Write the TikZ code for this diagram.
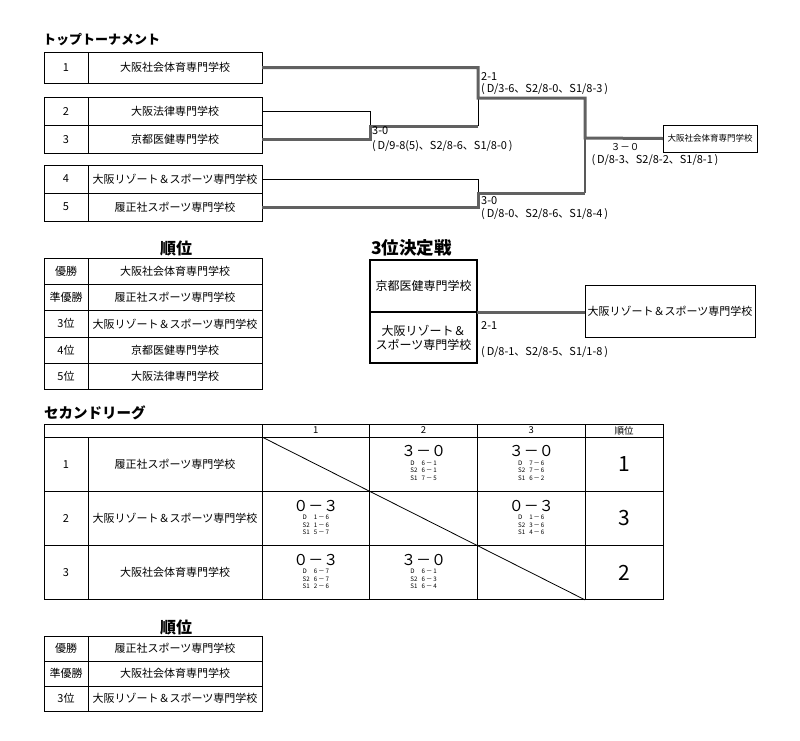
\documentclass[tikz,border=0pt]{standalone}
\usepackage{fontspec}
\setmainfont{Noto Sans CJK JP}
\usepackage{tikz}
\usetikzlibrary{positioning}

% score block of one league match
\newcommand{\matchres}[4]{%
  \begin{tabular}{@{}c@{}}
  {\fontsize{15}{15}\selectfont #1}\\[-1pt]
  \fontsize{6.2}{7.5}\selectfont
  \begin{tabular}{@{}l@{\hspace{4pt}}l@{}}D & #2\\ S2 & #3\\ S1 & #4\end{tabular}
  \end{tabular}}

\begin{document}
\begin{tikzpicture}[
    x=1pt, y=-1pt,
    every node/.style={font=\fontsize{11}{13.5}\selectfont},
    cell/.style={draw, line width=0.9pt, outer sep=0pt, inner sep=0pt, align=center},
    numcell/.style={cell, minimum width=44pt, minimum height=28pt},
    namecell/.style={cell, minimum width=174pt, minimum height=28pt},
    rankrow/.style={minimum height=26.3pt},
    lgrow/.style={minimum height=54.3pt},
    sccell/.style={cell, minimum width=107.7pt, lgrow},
    hcell/.style={cell, minimum width=107.7pt, minimum height=13pt, font=\fontsize{9.5}{10}\selectfont},
    rkcell/.style={cell, minimum width=78pt, lgrow, font=\fontsize{21}{22}\selectfont},
    title/.style={font=\fontsize{14.5}{16}\selectfont\bfseries, inner sep=0pt},
    win/.style={draw=black!62, line width=3pt},
    lose/.style={draw=black, line width=0.9pt},
    half/.style={draw=black!65, line width=2pt},
    res/.style={anchor=west, inner sep=0pt, font=\fontsize{11}{12}\selectfont}
]
\useasboundingbox (0,0) rectangle (800,740);

% Top tournament
\node[title, anchor=west, font=\fontsize{13}{14}\selectfont\bfseries] (ttl) at (43,40) {トップトーナメント};

\node[numcell, minimum height=31pt] (n1) at (66,67.5) {1};
\node[namecell, minimum height=31pt, right=0pt of n1] (s1) {大阪社会体育専門学校};
\node[numcell] (n2) at (66,111.5) {2};
\node[namecell, right=0pt of n2] (s2) {大阪法律専門学校};
\node[numcell, below=0pt of n2] (n3) {3};
\node[namecell, right=0pt of n3] (s3) {京都医健専門学校};
\node[numcell] (n4) at (66,179) {4};
\node[namecell, right=0pt of n4] (s4) {大阪リゾート＆スポーツ専門学校};
\node[numcell, below=0pt of n4] (n5) {5};
\node[namecell, right=0pt of n5] (s5) {履正社スポーツ専門学校};

\node[cell, line width=0.8pt, minimum width=94pt, minimum height=27pt,
      font=\fontsize{8.5}{10}\selectfont] (champ) at (710,138.5) {大阪社会体育専門学校};

\coordinate (m23) at (370,126);
\coordinate (k3)  at (478,126);
\coordinate (m13) at (478,98);
\coordinate (m45) at (478,193);
\coordinate (fin) at (585,138);

% Bracket lines
\draw[lose] (s2.east) -| (m23);
\draw[lose] (s4.east) -| (m45);
\draw[lose] (k3) -- (m13);
\draw[half] (m45 -| fin) -- (fin);
\draw[win] (s3.east) -| (m23) -- (k3);
\draw[win] (s5.east) -| (m45) -- (m45 -| fin);
\draw[win] (s1.east) -| (m13) -| (fin) -- (champ.west);

% Results
\node[res] (r13a) at (481,77) {2-1};
\node[res] (r13b) at (481,89.5) {(\,D/3-6、S2/8-0、S1/8-3\,)};
\node[res] (r23a) at (372,131) {3-0};
\node[res] (r23b) at (372,146.5) {(\,D/9-8(5)、S2/8-6、S1/8-0\,)};
\node[res] (r45a) at (481,201) {3-0};
\node[res] (r45b) at (481,214) {(\,D/8-0、S2/8-6、S1/8-4\,)};
\node[res, anchor=center, font=\fontsize{9.5}{11}\selectfont] (rfa) at (625,147) {３－０};
\node[res, anchor=center] (rfb) at (655,160) {(\,D/8-3、S2/8-2、S1/8-1\,)};

% Ranking
\node[title, font=\fontsize{16}{18}\selectfont\bfseries] (rk1) at (176,248) {順位};
\node[numcell, rankrow] (p1) at (66,271.2) {優勝};
\node[namecell, rankrow, right=0pt of p1] (q1) {大阪社会体育専門学校};
\node[numcell, rankrow, below=0pt of p1] (p2) {準優勝};
\node[namecell, rankrow, right=0pt of p2] (q2) {履正社スポーツ専門学校};
\node[numcell, rankrow, below=0pt of p2] (p3) {3位};
\node[namecell, rankrow, right=0pt of p3] (q3) {大阪リゾート＆スポーツ専門学校};
\node[numcell, rankrow, below=0pt of p3] (p4) {4位};
\node[namecell, rankrow, right=0pt of p4] (q4) {京都医健専門学校};
\node[numcell, rankrow, below=0pt of p4] (p5) {5位};
\node[namecell, rankrow, right=0pt of p5] (q5) {大阪法律専門学校};

% Third place match
\node[title, anchor=west, font=\fontsize{17.5}{19}\selectfont\bfseries] (t3) at (371,248) {3位決定戦};
\node[cell, line width=2pt, minimum width=107pt, minimum height=52pt,
      font=\fontsize{12}{14}\selectfont] (b1) at (423.5,286) {京都医健専門学校};
\node[cell, line width=2pt, minimum width=107pt, minimum height=51pt,
      font=\fontsize{12}{14}\selectfont, below=0pt of b1] (b2) {大阪リゾート＆\\スポーツ専門学校};
\node[cell, minimum width=170pt, minimum height=52pt] (b3) at (670,311) {大阪リゾート＆スポーツ専門学校};
\draw[win] (b1.south east) -- (b1.south east -| b3.west);
\node[res] (b2a) at (481,325) {2-1};
\node[res] (b2b) at (481,352) {(\,D/8-1、S2/8-5、S1/1-8\,)};

% Second league
\node[title, anchor=west] (lg) at (44,413) {セカンドリーグ};
\node[cell, minimum width=218pt, minimum height=13pt] (h0) at (153,430.5) {};
\node[hcell, right=0pt of h0] (h1) {1};
\node[hcell, right=0pt of h1] (h2) {2};
\node[hcell, right=0pt of h2] (h3) {3};
\node[hcell, minimum width=78pt, right=0pt of h3] (hr) {順位};

\node[numcell, lgrow] (g1) at (66,464.15) {1};
\node[namecell, lgrow, right=0pt of g1] (g1n) {履正社スポーツ専門学校};
\node[sccell, right=0pt of g1n] (g11) {};
\node[sccell, right=0pt of g11] (g12) {\matchres{３－０}{6\,－\,1}{6\,－\,1}{7\,－\,5}};
\node[sccell, right=0pt of g12] (g13) {\matchres{３－０}{7\,－\,6}{7\,－\,6}{6\,－\,2}};
\node[rkcell, right=0pt of g13] (g1r) {1};

\node[numcell, lgrow, below=0pt of g1] (g2) {2};
\node[namecell, lgrow, right=0pt of g2] (g2n) {大阪リゾート＆スポーツ専門学校};
\node[sccell, right=0pt of g2n] (g21) {\matchres{０－３}{1\,－\,6}{1\,－\,6}{5\,－\,7}};
\node[sccell, right=0pt of g21] (g22) {};
\node[sccell, right=0pt of g22] (g23) {\matchres{０－３}{1\,－\,6}{3\,－\,6}{4\,－\,6}};
\node[rkcell, right=0pt of g23] (g2r) {3};

\node[numcell, lgrow, below=0pt of g2] (g3) {3};
\node[namecell, lgrow, right=0pt of g3] (g3n) {大阪社会体育専門学校};
\node[sccell, right=0pt of g3n] (g31) {\matchres{０－３}{6\,－\,7}{6\,－\,7}{2\,－\,6}};
\node[sccell, right=0pt of g31] (g32) {\matchres{３－０}{6\,－\,1}{6\,－\,3}{6\,－\,4}};
\node[sccell, right=0pt of g32] (g33) {};
\node[rkcell, right=0pt of g33] (g3r) {2};

\draw[line width=0.8pt] (g11.north west) -- (g33.south east);

% League ranking
\node[title, font=\fontsize{16}{18}\selectfont\bfseries] (rk2) at (176,627) {順位};
\node[numcell, minimum height=25pt] (u1) at (66,648.5) {優勝};
\node[namecell, minimum height=25pt, right=0pt of u1] (v1) {履正社スポーツ専門学校};
\node[numcell, minimum height=25pt, below=0pt of u1] (u2) {準優勝};
\node[namecell, minimum height=25pt, right=0pt of u2] (v2) {大阪社会体育専門学校};
\node[numcell, minimum height=25pt, below=0pt of u2] (u3) {3位};
\node[namecell, minimum height=25pt, right=0pt of u3] (v3) {大阪リゾート＆スポーツ専門学校};
\end{tikzpicture}
\end{document}
